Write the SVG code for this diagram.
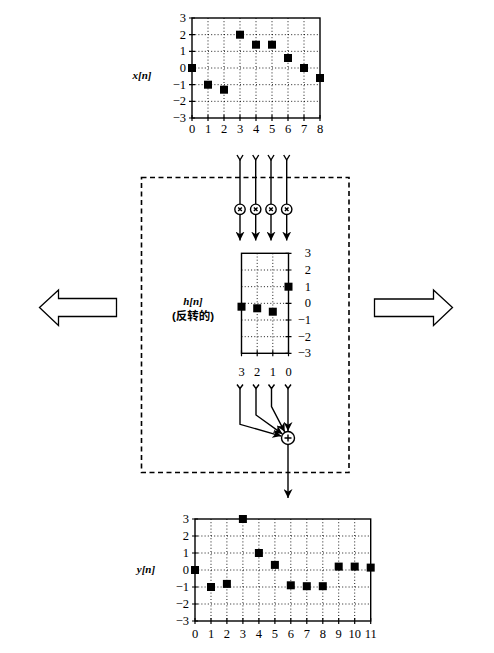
<svg xmlns="http://www.w3.org/2000/svg" width="494" height="653" viewBox="0 0 494 653">
<style>
.frame{fill:none;stroke:#000;stroke-width:1.4}
.grid{fill:none;stroke:#000;stroke-width:0.9;stroke-dasharray:1 2.2}
.tick{stroke:#000;stroke-width:1.2}
.pt{fill:#000}
.num{font-family:"Liberation Serif",serif;font-size:12.5px;fill:#000}
.lab{font-family:"Liberation Serif",serif;font-size:11px;font-style:italic;font-weight:bold;fill:#000}
.cjk{font-family:"Liberation Sans","Noto Sans CJK SC",sans-serif;font-size:11.5px;font-weight:bold;fill:#000}
.wire{fill:none;stroke:#000;stroke-width:1.4}
.box{fill:none;stroke:#000;stroke-width:1.6;stroke-dasharray:5 3.5}
.big{fill:#fff;stroke:#000;stroke-width:1.3}
.op{fill:#fff;stroke:#000;stroke-width:1.4}
</style>
<defs>
<marker id="ah" viewBox="0 0 10 10" refX="10" refY="5" markerWidth="9" markerHeight="9" markerUnits="userSpaceOnUse" orient="auto">
<path d="M0,0 L10,5 L0,10 L3,5 z" fill="#000"/>
</marker>
</defs>

<g id="chart-x">
<rect class="frame" x="192" y="18" width="128" height="100"/>
<path class="grid" d="M208,18V118M224,18V118M240,18V118M256,18V118M272,18V118M288,18V118M304,18V118M192,34.67H320M192,51.33H320M192,68H320M192,84.67H320M192,101.33H320"/>
<path class="tick" d="M189,18H195M189,34.67H195M189,51.33H195M189,68H195M189,84.67H195M189,101.33H195M189,118H195M192,115V121M208,115V121M224,115V121M240,115V121M256,115V121M272,115V121M288,115V121M304,115V121M320,115V121"/>
<g class="pt">
<rect x="188" y="64" width="8" height="8"/>
<rect x="204" y="80.7" width="8" height="8"/>
<rect x="220" y="85.7" width="8" height="8"/>
<rect x="236" y="30.7" width="8" height="8"/>
<rect x="252" y="40.7" width="8" height="8"/>
<rect x="268" y="40.7" width="8" height="8"/>
<rect x="284" y="54" width="8" height="8"/>
<rect x="300" y="64" width="8" height="8"/>
<rect x="316" y="74" width="8" height="8"/>
</g>
<g class="num" text-anchor="end">
<text x="186" y="22">3</text>
<text x="186" y="38.7">2</text>
<text x="186" y="55.3">1</text>
<text x="186" y="72">0</text>
<text x="186" y="88.7">−1</text>
<text x="186" y="105.3">−2</text>
<text x="186" y="122">−3</text>
</g>
<g class="num" text-anchor="middle">
<text x="192" y="132.5">0</text>
<text x="208" y="132.5">1</text>
<text x="224" y="132.5">2</text>
<text x="240" y="132.5">3</text>
<text x="256" y="132.5">4</text>
<text x="272" y="132.5">5</text>
<text x="288" y="132.5">6</text>
<text x="304" y="132.5">7</text>
<text x="320" y="132.5">8</text>
</g>
<text class="lab" x="142" y="79" text-anchor="middle">x[n]</text>
</g>

<g id="system-box">
<rect class="box" x="141.5" y="177.5" width="207.5" height="295"/>
</g>

<g id="chart-h">
<rect class="frame" x="241.5" y="253.3" width="47" height="100"/>
<path class="grid" d="M257.2,253.3V353.3M272.8,253.3V353.3M241.5,270H288.5M241.5,286.67H288.5M241.5,303.33H288.5M241.5,320H288.5M241.5,336.67H288.5"/>
<path class="tick" d="M285.5,253.3H291.5M285.5,270H291.5M285.5,286.67H291.5M285.5,303.33H291.5M285.5,320H291.5M285.5,336.67H291.5M285.5,353.3H291.5M241.5,350.3V356.3M257.2,350.3V356.3M272.8,350.3V356.3M288.5,350.3V356.3"/>
<g class="pt">
<rect x="237.5" y="302.7" width="8" height="8"/>
<rect x="253.2" y="304.3" width="8" height="8"/>
<rect x="268.8" y="307.7" width="8" height="8"/>
<rect x="284.5" y="282.7" width="8" height="8"/>
</g>
<g class="num" text-anchor="end">
<text x="311" y="257.3">3</text>
<text x="311" y="274">2</text>
<text x="311" y="290.7">1</text>
<text x="311" y="307.3">0</text>
<text x="311" y="324">−1</text>
<text x="311" y="340.7">−2</text>
<text x="311" y="357.3">−3</text>
</g>
<g class="num" text-anchor="middle">
<text x="241.5" y="376">3</text>
<text x="257.2" y="376">2</text>
<text x="272.8" y="376">1</text>
<text x="288.5" y="376">0</text>
</g>
<text class="lab" x="193" y="305" text-anchor="middle">h[n]</text>
<text class="cjk" x="193" y="320" text-anchor="middle">(反转的)</text>
</g>

<g id="connectors">
<path class="wire" d="M237,155L240,160L243,155M252.7,155L255.7,160L258.7,155M268,155L271,160L274,155M283.7,155L286.7,160L289.7,155"/>
<path class="wire" marker-end="url(#ah)" d="M240,160V240.5"/>
<path class="wire" marker-end="url(#ah)" d="M255.7,160V240.5"/>
<path class="wire" marker-end="url(#ah)" d="M271,160V240.5"/>
<path class="wire" marker-end="url(#ah)" d="M286.7,160V240.5"/>
<path class="wire" d="M237,384.5L240,388.5L243,384.5M253,384.5L256,388.5L259,384.5M268.5,384.5L271.5,388.5L274.5,384.5M285,384.5L288,388.5L291,384.5"/>
<path class="wire" marker-end="url(#ah)" d="M240,388.5V424.3L281.3,436.1"/>
<path class="wire" marker-end="url(#ah)" d="M256,388.5V415L282.3,433.9"/>
<path class="wire" marker-end="url(#ah)" d="M271.5,388.5V406.7L284.7,431.8"/>
<path class="wire" marker-end="url(#ah)" d="M288,388.5V431"/>
<path class="wire" marker-end="url(#ah)" d="M288,444.5V498"/>
</g>

<g id="multipliers">
<g><circle class="op" cx="240" cy="209.3" r="5.2"/><path class="wire" d="M238.2,207.5L241.8,211.1M241.8,207.5L238.2,211.1"/></g>
<g><circle class="op" cx="255.7" cy="209.3" r="5.2"/><path class="wire" d="M253.9,207.5L257.5,211.1M257.5,207.5L253.9,211.1"/></g>
<g><circle class="op" cx="271" cy="209.3" r="5.2"/><path class="wire" d="M269.2,207.5L272.8,211.1M272.8,207.5L269.2,211.1"/></g>
<g><circle class="op" cx="286.7" cy="209.3" r="5.2"/><path class="wire" d="M284.9,207.5L288.5,211.1M288.5,207.5L284.9,211.1"/></g>
</g>

<g id="adder">
<circle class="op" cx="288" cy="438" r="6.5"/>
<path class="wire" d="M284.5,438H291.5M288,434.5V441.5"/>
</g>

<g id="chart-y">
<rect class="frame" x="195" y="519" width="175.7" height="102"/>
<path class="grid" d="M211,519V621M226.9,519V621M242.9,519V621M258.9,519V621M274.9,519V621M290.8,519V621M306.8,519V621M322.8,519V621M338.7,519V621M354.7,519V621M195,536H370.7M195,553H370.7M195,570H370.7M195,587H370.7M195,604H370.7"/>
<path class="tick" d="M192,519H198M192,536H198M192,553H198M192,570H198M192,587H198M192,604H198M192,621H198M195,618V624M211,618V624M226.9,618V624M242.9,618V624M258.9,618V624M274.9,618V624M290.8,618V624M306.8,618V624M322.8,618V624M338.7,618V624M354.7,618V624M370.7,618V624"/>
<g class="pt">
<rect x="191" y="566" width="8" height="8"/>
<rect x="207" y="583" width="8" height="8"/>
<rect x="222.9" y="579.9" width="8" height="8"/>
<rect x="238.9" y="515" width="8" height="8"/>
<rect x="254.9" y="549" width="8" height="8"/>
<rect x="270.9" y="560.9" width="8" height="8"/>
<rect x="286.8" y="581.3" width="8" height="8"/>
<rect x="302.8" y="582.2" width="8" height="8"/>
<rect x="318.8" y="582.2" width="8" height="8"/>
<rect x="334.7" y="562.6" width="8" height="8"/>
<rect x="350.7" y="562.6" width="8" height="8"/>
<rect x="366.7" y="563.6" width="8" height="8"/>
</g>
<g class="num" text-anchor="end">
<text x="189" y="523">3</text>
<text x="189" y="540">2</text>
<text x="189" y="557">1</text>
<text x="189" y="574">0</text>
<text x="189" y="591">−1</text>
<text x="189" y="608">−2</text>
<text x="189" y="625">−3</text>
</g>
<g class="num" text-anchor="middle">
<text x="195" y="637.5">0</text>
<text x="211" y="637.5">1</text>
<text x="226.9" y="637.5">2</text>
<text x="242.9" y="637.5">3</text>
<text x="258.9" y="637.5">4</text>
<text x="274.9" y="637.5">5</text>
<text x="290.8" y="637.5">6</text>
<text x="306.8" y="637.5">7</text>
<text x="322.8" y="637.5">8</text>
<text x="338.7" y="637.5">9</text>
<text x="354.7" y="637.5">10</text>
<text x="370.7" y="637.5">11</text>
</g>
<text class="lab" x="146" y="573" text-anchor="middle">y[n]</text>
</g>

<g id="arrow-left">
<polygon class="big" points="39.5,307.5 58.5,290 58.5,298.5 116.5,298.5 116.5,316.5 58.5,316.5 58.5,325.5"/>
</g>
<g id="arrow-right">
<polygon class="big" points="374.5,299 433.5,299 433.5,290 452.5,307.5 433.5,325.5 433.5,316.5 374.5,316.5"/>
</g>
</svg>
